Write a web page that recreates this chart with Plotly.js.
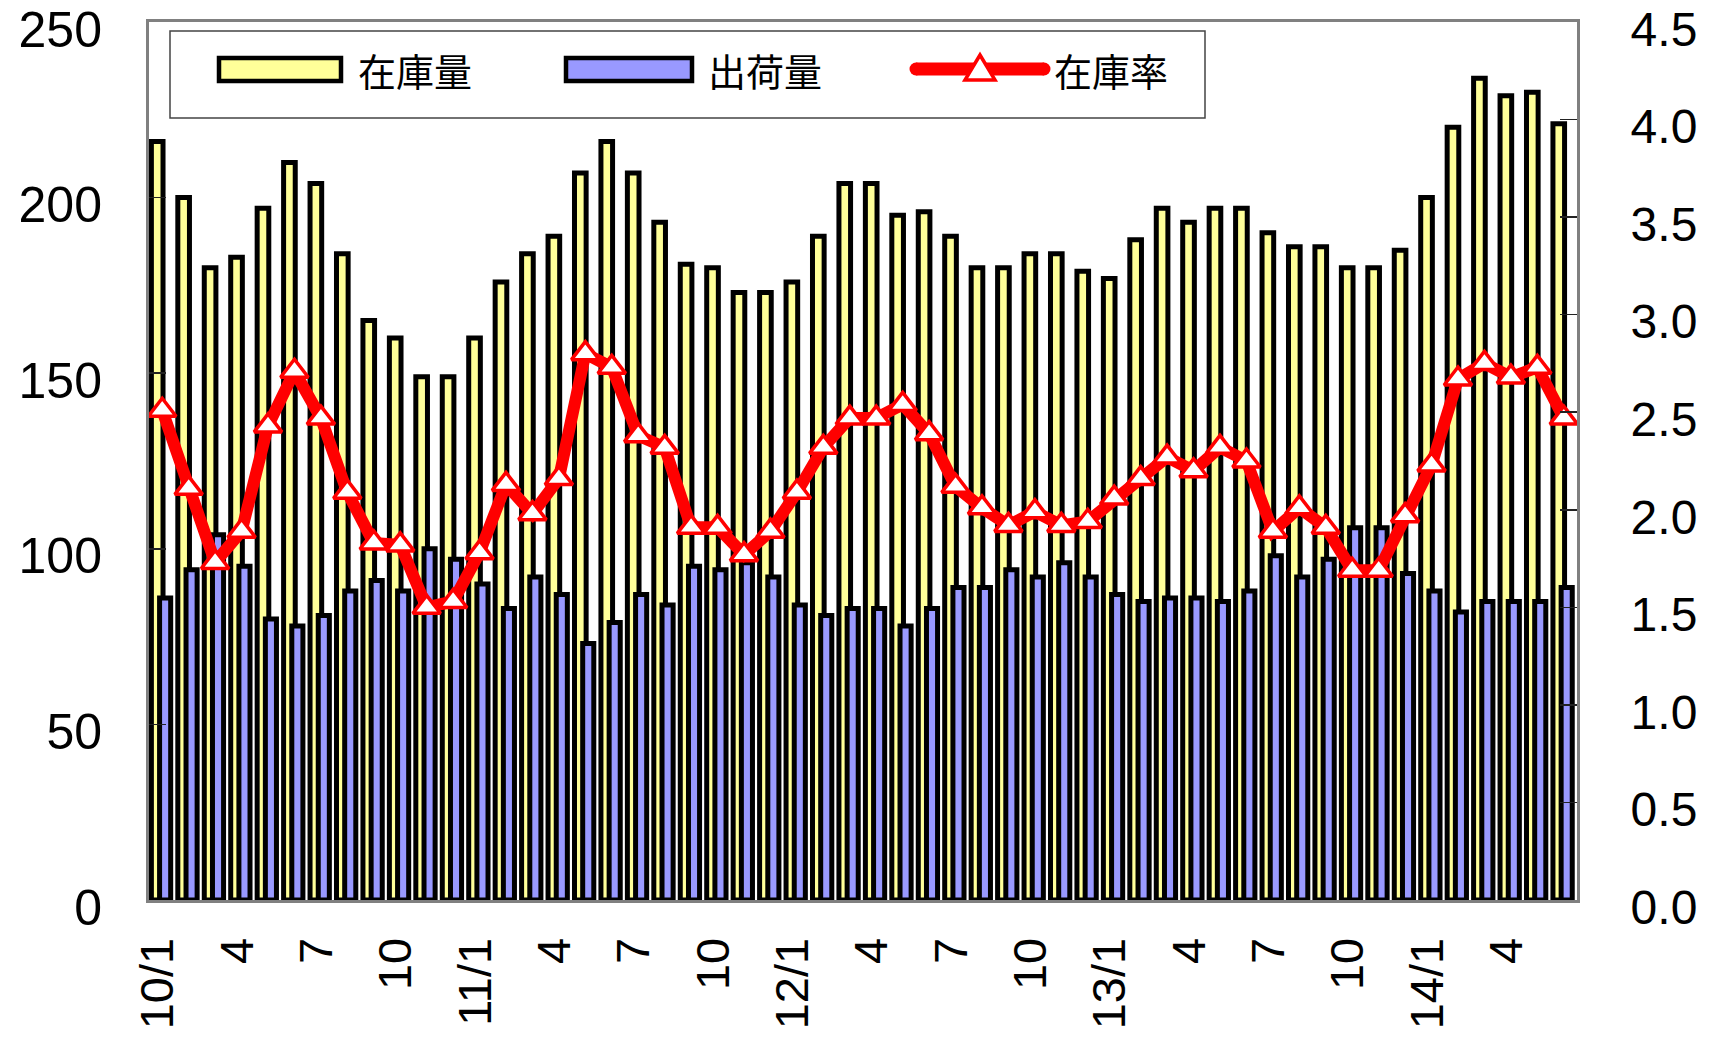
<!DOCTYPE html>
<html>
<head>
<meta charset="utf-8">
<script src="https://cdn.plot.ly/plotly-3.0.1.min.js"></script>
<style>
  html, body { margin: 0; padding: 0; background: #fff; }
  #chart { width: 1709px; height: 1045px; }
</style>
</head>
<body>
<div id="chart"></div>
<script>
// ---- data ----
const months = [
  '10/1','10/2','10/3','10/4','10/5','10/6','10/7','10/8','10/9','10/10','10/11','10/12',
  '11/1','11/2','11/3','11/4','11/5','11/6','11/7','11/8','11/9','11/10','11/11','11/12',
  '12/1','12/2','12/3','12/4','12/5','12/6','12/7','12/8','12/9','12/10','12/11','12/12',
  '13/1','13/2','13/3','13/4','13/5','13/6','13/7','13/8','13/9','13/10','13/11','13/12',
  '14/1','14/2','14/3','14/4','14/5','14/6'
];
const inventory = [
  216, 200, 180, 183, 197, 210, 204, 184, 165, 160, 149, 149,
  160, 176, 184, 189, 207, 216, 207, 193, 181, 180, 173, 173,
  176, 189, 204, 204, 195, 196, 189, 180, 180, 184, 184, 179,
  177, 188, 197, 193, 197, 197, 190, 186, 186, 180, 180, 185,
  200, 220, 234, 229, 230, 221
];
const shipments = [
  86, 94, 104, 95, 80, 78, 81, 88, 91, 88, 100, 97,
  90, 83, 92, 87, 73, 79, 87, 84, 95, 94, 96, 92,
  84, 81, 83, 83, 78, 83, 89, 89, 94, 92, 96, 92,
  87, 85, 86, 86, 85, 88, 98, 92, 97, 106, 106, 93,
  88, 82, 85, 85, 85, 89
];
const ratio = [
  2.51, 2.11, 1.73, 1.89, 2.43, 2.71, 2.47, 2.09, 1.83, 1.82, 1.50, 1.53,
  1.78, 2.13, 1.98, 2.16, 2.80, 2.73, 2.38, 2.32, 1.91, 1.91, 1.77, 1.89,
  2.09, 2.32, 2.47, 2.47, 2.54, 2.39, 2.12, 2.01, 1.92, 1.99, 1.92, 1.94,
  2.06, 2.16, 2.27, 2.20, 2.32, 2.25, 1.89, 2.01, 1.91, 1.69, 1.69, 1.97,
  2.23, 2.67, 2.75, 2.68, 2.73, 2.47
];
const tickMonths = ['10/1','10/4','10/7','10/10','11/1','11/4','11/7','11/10',
  '12/1','12/4','12/7','12/10','13/1','13/4','13/7','13/10','14/1','14/4'];
const tickLabels = ['10/1','4','7','10','11/1','4','7','10',
  '12/1','4','7','10','13/1','4','7','10','14/1','4'];
const seriesNames = ['在庫量', '出荷量', '在庫率'];

// ---- styling ----
const YELLOW = '#FFFF99', BLUE = '#9999FF', RED = '#FF0000';
const FONT = 'Liberation Sans, Arial, sans-serif';
const CJK = 'Noto Sans CJK JP, sans-serif';

const W = 1709, H = 1045;
const M = { l: 149, r: 132, t: 22, b: 145 };
const PW = W - M.l - M.r, PH = H - M.t - M.b;
const px = x => (x - M.l) / PW;          // pixel -> paper x
const py = y => (H - M.b - y) / PH;      // pixel -> paper y

const traces = [
  {
    type: 'bar', name: seriesNames[0], x: months, y: inventory,
    width: 0.44, offset: -0.41,
    marker: { color: YELLOW, line: { color: '#000', width: 5 } },
    yaxis: 'y', showlegend: false, hoverinfo: 'x+y'
  },
  {
    type: 'bar', name: seriesNames[1], x: months, y: shipments,
    width: 0.42, offset: -0.1,
    marker: { color: BLUE, line: { color: '#000', width: 5 } },
    yaxis: 'y', showlegend: false, hoverinfo: 'x+y'
  },
  {
    type: 'scatter', mode: 'lines+markers', name: seriesNames[2], x: months, y: ratio,
    yaxis: 'y2',
    line: { color: RED, width: 12 },
    marker: { symbol: 'triangle-up', size: 24, color: '#FFFFFF', line: { color: RED, width: 3.5 } },
    showlegend: false, hoverinfo: 'x+y'
  }
];

// ---- custom legend (shapes + annotations) ----
const shapes = [
  { type: 'rect', xref: 'paper', yref: 'paper', x0: px(170), x1: px(1205), y0: py(31), y1: py(118),
    fillcolor: '#FFFFFF', line: { color: '#444', width: 1.5 }, layer: 'above' },
  { type: 'rect', xref: 'paper', yref: 'paper', x0: px(219), x1: px(341), y0: py(58), y1: py(81),
    fillcolor: YELLOW, line: { color: '#000', width: 4.5 }, layer: 'above' },
  { type: 'rect', xref: 'paper', yref: 'paper', x0: px(566), x1: px(692), y0: py(58), y1: py(81),
    fillcolor: BLUE, line: { color: '#000', width: 4.5 }, layer: 'above' },
  { type: 'line', xref: 'paper', yref: 'paper', x0: px(916), x1: px(1044), y0: py(69), y1: py(69),
    line: { color: RED, width: 13 }, layer: 'above' },
  { type: 'circle', xref: 'paper', yref: 'paper', x0: px(909.5), x1: px(922.5), y0: py(62.5), y1: py(75.5),
    fillcolor: RED, line: { width: 0 }, layer: 'above' },
  { type: 'circle', xref: 'paper', yref: 'paper', x0: px(1037.5), x1: px(1050.5), y0: py(62.5), y1: py(75.5),
    fillcolor: RED, line: { width: 0 }, layer: 'above' },
  { type: 'path', xref: 'paper', yref: 'paper',
    path: 'M ' + px(965) + ',' + py(80) + ' L ' + px(995) + ',' + py(80) + ' L ' + px(980) + ',' + py(55) + ' Z',
    fillcolor: '#FFFFFF', line: { color: RED, width: 3.5 }, layer: 'above' }
];

const annotations = [
  { text: seriesNames[0], xref: 'paper', yref: 'paper', x: px(415), y: py(70), showarrow: false,
    xanchor: 'center', yanchor: 'middle', font: { family: CJK, size: 38, color: '#000' } },
  { text: seriesNames[1], xref: 'paper', yref: 'paper', x: px(765), y: py(70), showarrow: false,
    xanchor: 'center', yanchor: 'middle', font: { family: CJK, size: 38, color: '#000' } },
  { text: seriesNames[2], xref: 'paper', yref: 'paper', x: px(1111), y: py(70), showarrow: false,
    xanchor: 'center', yanchor: 'middle', font: { family: CJK, size: 38, color: '#000' } }
];

const layout = {
  width: W, height: H,
  margin: M,
  paper_bgcolor: '#FFFFFF', plot_bgcolor: '#FFFFFF',
  barmode: 'overlay',
  showlegend: false,
  font: { family: FONT, color: '#000' },
  xaxis: {
    type: 'category',
    range: [-0.5, months.length - 0.5],
    tickvals: tickMonths, ticktext: tickLabels,
    tickangle: -90,
    tickfont: { family: FONT, size: 47, color: '#000' },
    ticks: '', ticklabelstandoff: 16, ticklabelshift: -4,
    showgrid: false, zeroline: false,
    showline: true, linecolor: '#808080', linewidth: 3, mirror: true
  },
  yaxis: {
    range: [0, 250], dtick: 50, tick0: 0,
    ticks: 'inside', ticklen: 17, tickwidth: 1.5, tickcolor: '#222',
    tickfont: { family: FONT, size: 50, color: '#000' },
    ticklabelstandoff: 34, ticklabelshift: 7, ticklabeloverflow: 'allow',
    showgrid: false, zeroline: false,
    showline: true, linecolor: '#808080', linewidth: 3, mirror: true
  },
  yaxis2: {
    overlaying: 'y', side: 'right',
    range: [0, 4.5], dtick: 0.5, tick0: 0, tickformat: '.1f',
    ticks: 'inside', ticklen: 17, tickwidth: 1.5, tickcolor: '#222',
    tickfont: { family: FONT, size: 48, color: '#000' },
    ticklabelstandoff: 41, ticklabelshift: 7, ticklabeloverflow: 'allow',
    showgrid: false, zeroline: false,
    showline: true, linecolor: '#808080', linewidth: 3
  },
  shapes: shapes,
  annotations: annotations
};

Plotly.newPlot('chart', traces, layout, { displayModeBar: false, staticPlot: true });
</script>
</body>
</html>
